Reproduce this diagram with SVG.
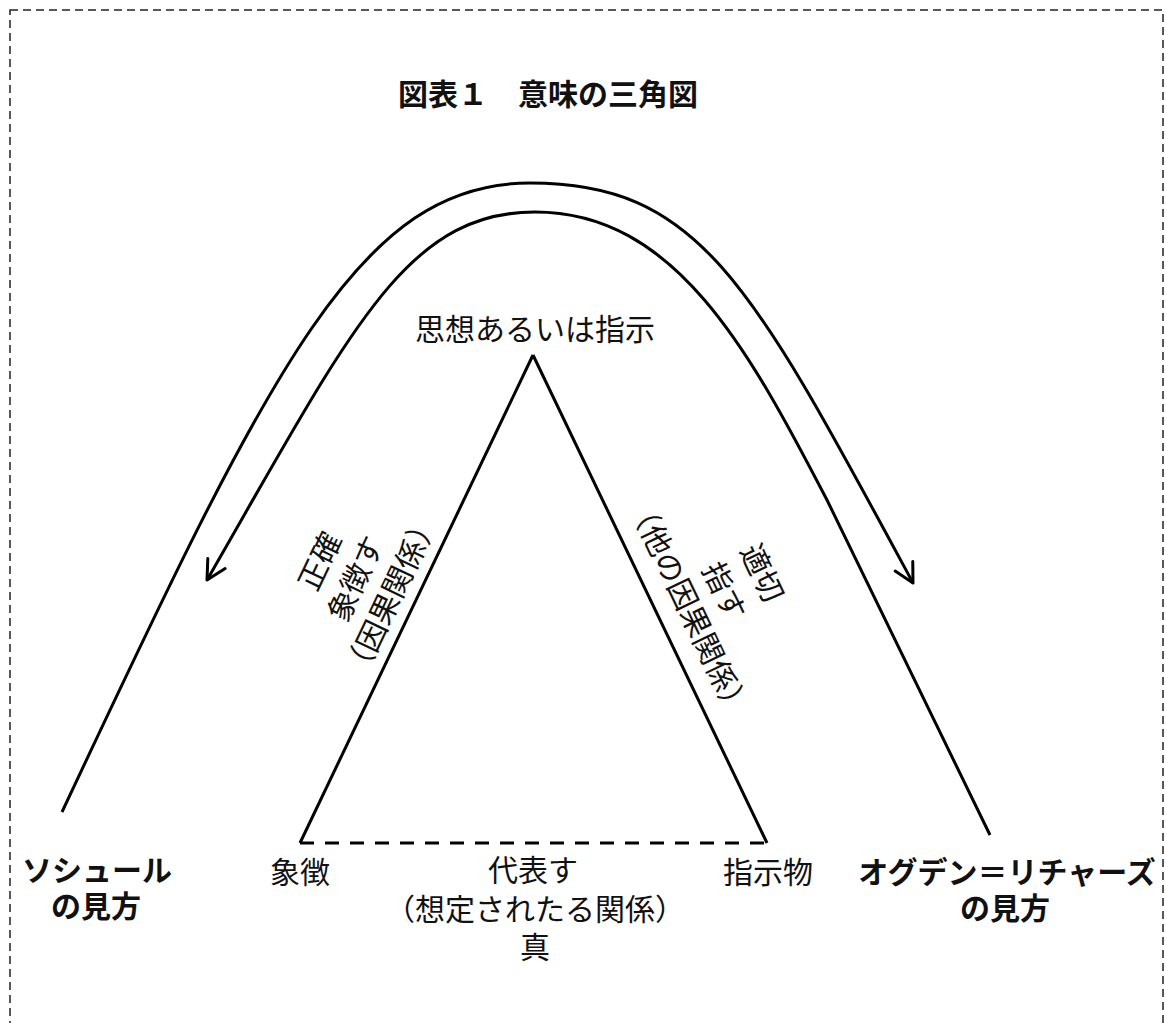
<svg xmlns="http://www.w3.org/2000/svg" width="1166" height="1023" viewBox="0 0 1166 1023">
<style>
  text { font-family: 'Noto Sans CJK JP', 'Noto Sans', sans-serif; fill: #111; }
  .lbl { font-size: 30px; }
  .bold { font-size: 30px; font-weight: bold; }
  .c { text-anchor: middle; }
  .line { fill: none; stroke: #000; stroke-width: 3; stroke-linejoin: round; }
  .frame { fill: none; stroke: #222; stroke-width: 1.5; stroke-dasharray: 8 5; }
</style>
<defs>
  <marker id="arr" viewBox="-25 -15 30 30" markerWidth="30" markerHeight="30" refX="0" refY="0" orient="auto-start-reverse" markerUnits="userSpaceOnUse" overflow="visible">
    <path d="M-19,-10 L0,0 L-19,10" fill="none" stroke="#000" stroke-width="3" stroke-linejoin="round" stroke-linecap="round"/>
  </marker>
</defs>
<rect width="1166" height="1023" fill="#fff"/>
<rect class="frame" x="10" y="10" width="1153" height="1040"/>

<g id="title">
  <text class="bold" x="398" y="105">図表１　意味の三角図</text>
</g>

<g id="connectors">
  <path id="tri-left" class="line" d="M300,843 L533,355"/>
  <path id="tri-right" class="line" d="M533,355 L767,843"/>
  <path id="tri-base" class="line" d="M300,843 L767,843" stroke-dasharray="14 11"/>
  <path id="arc-outer" class="line" d="M62,812 C273,362 360,183 530,183 C700,183 751,283 913,583" marker-end="url(#arr)"/>
  <path id="arc-inner" class="line" d="M207,580 C351,330 405,212 535,212 C675,212 749,350 827,500 L990,835" marker-start="url(#arr)"/>
</g>

<g id="node-thought">
  <text class="lbl c" x="535" y="340">思想あるいは指示</text>
</g>
<g id="node-symbol">
  <text class="lbl c" x="300" y="883">象徴</text>
</g>
<g id="node-referent">
  <text class="lbl c" x="768" y="883">指示物</text>
</g>
<g id="label-saussure">
  <text class="bold c"><tspan x="97" y="881">ソシュール</tspan><tspan x="96" y="917">の見方</tspan></text>
</g>
<g id="label-ogden">
  <text class="bold c"><tspan x="1007" y="883">オグデン＝リチャーズ</tspan><tspan x="1005" y="919">の見方</tspan></text>
</g>
<g id="label-base">
  <text class="lbl c"><tspan x="533" y="881">代表す</tspan><tspan x="535" y="920">（想定されたる関係）</tspan><tspan x="535" y="958">真</tspan></text>
</g>
<g id="label-left" transform="rotate(-64.5)">
  <text class="lbl c"><tspan x="-369" y="541">正確</tspan><tspan x="-369" y="581">象徴す</tspan><tspan x="-369" y="620">（因果関係）</tspan></text>
</g>
<g id="label-right" transform="rotate(64.4)">
  <text class="lbl c"><tspan x="846" y="-429">適切</tspan><tspan x="846" y="-387">指す</tspan><tspan x="846" y="-348">（他の因果関係）</tspan></text>
</g>
</svg>
